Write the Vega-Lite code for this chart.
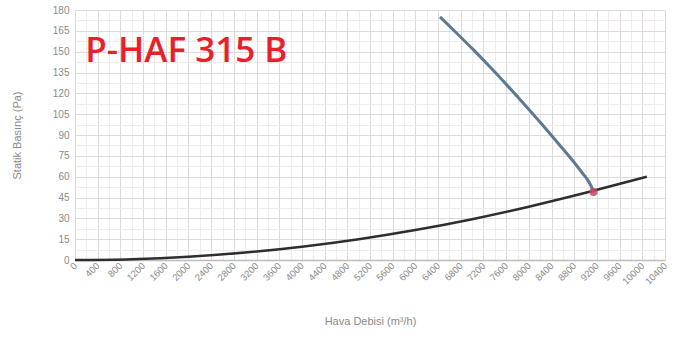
{
  "$schema": "https://vega.github.io/schema/vega-lite/v6.json",
  "autosize": "none",
  "width": 590,
  "height": 250,
  "padding": {"left": 75, "top": 10, "right": 13, "bottom": 85},
  "background": "white",
  "config": {
    "view": {"stroke": null},
    "axis": {"labelFont": "Liberation Sans", "titleFont": "Liberation Sans", "labelColor": "#8a8a8a", "titleColor": "#8a8a8a", "titleFontWeight": "normal"}
  },
  "datasets": {
    "system": [
      {"q": 0, "p": 0}, {"q": 1000, "p": 0.6}, {"q": 2000, "p": 2.4}, {"q": 3000, "p": 5.4},
      {"q": 4000, "p": 9.6}, {"q": 5000, "p": 15.0}, {"q": 6000, "p": 21.6}, {"q": 7000, "p": 29.4},
      {"q": 8000, "p": 38.4}, {"q": 9000, "p": 48.4}, {"q": 10080, "p": 60}
    ],
    "fan": [
      {"q": 6434, "p": 175}, {"q": 6734, "p": 163.1}, {"q": 7034, "p": 150.9}, {"q": 7334, "p": 138.2},
      {"q": 7634, "p": 125.0}, {"q": 7934, "p": 111.5}, {"q": 8234, "p": 97.6}, {"q": 8534, "p": 83.2},
      {"q": 8834, "p": 68.4}, {"q": 8950, "p": 62.3}, {"q": 9050, "p": 56.8}, {"q": 9100, "p": 53.0},
      {"q": 9125, "p": 50.6}, {"q": 9140, "p": 48.5}
    ],
    "point": [{"q": 9140, "p": 49}],
    "label": [{"q": 180, "p": 142.5, "name": "P-HAF 315 B"}]
  },
  "resolve": {"axis": {"x": "independent", "y": "independent"}},
  "layer": [
    {
      "data": {"name": "system"},
      "mark": {"type": "line", "color": "#2e2e2e", "strokeWidth": 2.5, "interpolate": "monotone"},
      "encoding": {
        "x": {
          "field": "q", "type": "quantitative",
          "scale": {"domain": [0, 10400], "nice": false, "zero": true},
          "axis": {
            "orient": "bottom",
            "title": "Hava Debisi (m³/h)", "titleFontSize": 11, "titlePadding": 30,
            "values": [0,400,800,1200,1600,2000,2400,2800,3200,3600,4000,4400,4800,5200,5600,6000,6400,6800,7200,7600,8000,8400,8800,9200,9600,10000,10400],
            "format": "d",
            "labelAngle": -45, "labelAlign": "right", "labelBaseline": "middle", "labelFontSize": 9.5, "labelPadding": 4,
            "ticks": false, "domain": true, "domainColor": "#bdbdbd", "domainWidth": 1.5,
            "grid": true, "gridColor": "#dedada",
            "labelOverlap": false
          }
        },
        "y": {
          "field": "p", "type": "quantitative",
          "scale": {"domain": [0, 180], "nice": false},
          "axis": {
            "orient": "left",
            "title": "Statik Basınç (Pa)", "titleFontSize": 11, "titlePadding": 30,
            "values": [0,15,30,45,60,75,90,105,120,135,150,165,180],
            "labelFontSize": 10, "labelPadding": 6, "ticks": false, "domain": false,
            "grid": true, "gridColor": "#dedada",
            "labelOverlap": false
          }
        }
      }
    },
    {
      "data": {"name": "point"},
      "mark": {"type": "point", "opacity": 0},
      "encoding": {
        "x": {
          "field": "q", "type": "quantitative",
          "axis": {
            "orient": "top", "title": null, "labels": false, "ticks": false, "domain": false,
            "grid": true, "gridColor": "#f0ecec",
            "values": [200,600,1000,1400,1800,2200,2600,3000,3400,3800,4200,4600,5000,5400,5800,6200,6600,7000,7400,7800,8200,8600,9000,9400,9800,10200]
          }
        },
        "y": {
          "field": "p", "type": "quantitative",
          "axis": {
            "orient": "right", "title": null, "labels": false, "ticks": false, "domain": false,
            "grid": true, "gridColor": "#f0ecec",
            "values": [7.5,22.5,37.5,52.5,67.5,82.5,97.5,112.5,127.5,142.5,157.5,172.5]
          }
        }
      }
    },
    {
      "data": {"name": "fan"},
      "mark": {"type": "line", "color": "#5d7a93", "strokeWidth": 3, "interpolate": "monotone"},
      "encoding": {
        "x": {"field": "q", "type": "quantitative", "axis": null},
        "y": {"field": "p", "type": "quantitative", "axis": null}
      }
    },
    {
      "data": {"name": "point"},
      "mark": {"type": "circle", "color": "#c9475e", "size": 65, "opacity": 0.85},
      "encoding": {
        "x": {"field": "q", "type": "quantitative", "axis": null},
        "y": {"field": "p", "type": "quantitative", "axis": null}
      }
    },
    {
      "data": {"name": "label"},
      "mark": {"type": "text", "color": "#e8202a", "font": "Open Sans", "fontWeight": 600, "fontSize": 35, "align": "left", "baseline": "alphabetic"},
      "encoding": {
        "x": {"field": "q", "type": "quantitative", "axis": null},
        "y": {"field": "p", "type": "quantitative", "axis": null},
        "text": {"field": "name"}
      }
    }
  ]
}
